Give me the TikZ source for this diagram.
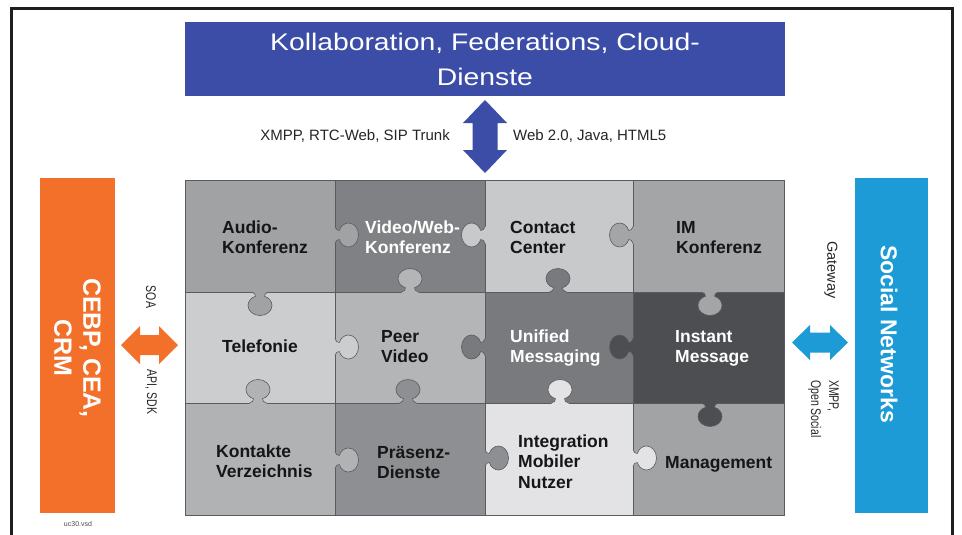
\documentclass[tikz,border=0pt]{standalone}
\usepackage{fontspec}
\setmainfont{Liberation Sans}
\newfontfamily\widefont[FakeStretch=1.18]{Liberation Sans}
\newfontfamily\condfont[FakeStretch=0.75]{Liberation Sans}
\definecolor{cTitle}{HTML}{3B4DA7}
\definecolor{cOrange}{HTML}{F2702A}
\definecolor{cCyan}{HTML}{1C9BD7}
\definecolor{cAudio}{HTML}{A1A2A4}
\definecolor{cVideo}{HTML}{808184}
\definecolor{cContact}{HTML}{C8C9CB}
\definecolor{cIMK}{HTML}{A4A5A7}
\definecolor{cTel}{HTML}{CCCDCF}
\definecolor{cPeer}{HTML}{B4B5B7}
\definecolor{cUM}{HTML}{797A7D}
\definecolor{cIM}{HTML}{4D4E51}
\definecolor{cKont}{HTML}{B1B2B4}
\definecolor{cPraes}{HTML}{8E8F92}
\definecolor{cInteg}{HTML}{E3E3E5}
\definecolor{cMgmt}{HTML}{A2A3A5}
\definecolor{cellline}{HTML}{5A5B5E}
\definecolor{cText}{HTML}{161616}
\tikzset{
  cellbox/.style={draw=cellline, line width=0.6pt, inner sep=0pt, outer sep=0pt},
  celltext/.style={anchor=base west, align=left, inner sep=0pt,
    font=\bfseries\fontsize{17.5}{20.5}\selectfont, text=cText},
  whitetext/.style={celltext, text=white},
  toplabel/.style={inner sep=0pt, font=\fontsize{15}{18}\selectfont, text=black!85},
  sidelabel/.style={rotate=-90, inner sep=0pt, font=\condfont\fontsize{14}{18}\selectfont, text=black!85},
  knobline/.style={draw=cellline, line width=0.6pt},
}
\newcommand{\knobpath}{(0,-8.5)
    .. controls (0.6,-5.5) and (2.4,-4.5) .. (4.23,-4.5)
    .. controls (5.76,-9.04) and (9.42,-12) .. (13.5,-12)
    .. controls (19.02,-12) and (23.5,-6.63) .. (23.5,0)
    .. controls (23.5,6.63) and (19.02,12) .. (13.5,12)
    .. controls (9.42,12) and (5.76,9.04) .. (4.23,4.5)
    .. controls (2.4,4.5) and (0.6,5.5) .. (0,8.5)}
\newcommand{\knob}[4]{%
  \fill[#4, shift={(#1,#2)}, rotate=#3] (-1,-8.5) -- \knobpath -- (-1,8.5) -- cycle;
  \draw[knobline, shift={(#1,#2)}, rotate=#3] \knobpath;}
\begin{document}
\begin{tikzpicture}[x=1pt, y=-1pt]
\useasboundingbox (0,0) rectangle (962,535);
\clip (0,0) rectangle (962,535);
\fill[white] (0,0) rectangle (962,535);
% frame
\draw[line width=2.5pt, black!88] (11.3,560) -- (11.3,8.3) -- (952.5,8.3) -- (952.5,560);

% title box
\node[fill=cTitle, minimum width=600pt, minimum height=74pt, inner sep=0pt,
      align=center, text=white, font=\widefont\fontsize{24}{35}\selectfont]
  (title) at (485,59) {Kollaboration, Federations, Cloud-\\Dienste};

% side bars
\node[fill=cOrange, minimum width=75pt, minimum height=335pt, inner sep=0pt] (cebp) at (77.5,345.5) {};
\node[rotate=-90, align=center, text=white, inner sep=0pt,
      font=\bfseries\fontsize{25}{29}\selectfont] (cebpT) at (77.5,348) {CEBP, CEA,\\CRM};
\node[fill=cCyan, minimum width=73pt, minimum height=335pt, inner sep=0pt] (social) at (891.5,345.5) {};
\node[rotate=-90, text=white, inner sep=0pt,
      font=\bfseries\fontsize{23}{28}\selectfont] (socialT) at (889,334) {Social Networks};

% arrows
\fill[cTitle] (485,100) -- (507,123) -- (497.5,123) -- (497.5,150) -- (507,150) -- (485,173)
  -- (463,150) -- (472.5,150) -- (472.5,123) -- (463,123) -- cycle;
\fill[cOrange] (121,345) -- (140,326) -- (140,335) -- (159,335) -- (159,326) -- (178,345)
  -- (159,364) -- (159,355) -- (140,355) -- (140,364) -- cycle;
\fill[cCyan] (792,342.5) -- (810,325) -- (810,332.5) -- (830,332.5) -- (830,325) -- (848,342.5)
  -- (830,360) -- (830,352.5) -- (810,352.5) -- (810,360) -- cycle;

% labels
\node[toplabel, anchor=base east] (lblL) at (450,140) {XMPP, RTC-Web, SIP Trunk};
\node[toplabel, anchor=base west] (lblR) at (513,140) {Web 2.0, Java, HTML5};
\node[sidelabel] (soa) at (151,297) {SOA};
\node[sidelabel] (api) at (151,392) {API, SDK};
\node[sidelabel, font=\fontsize{14.5}{18}\selectfont] (gw) at (831,270) {Gateway};
\node[sidelabel, align=left, anchor=north west] (xmpp) at (839,380) {XMPP,\\Open Social};
\node[inner sep=0pt, font=\fontsize{7}{8}\selectfont, text=black!70] (vsd) at (78,524) {uc30.vsd};

% cells
\node[cellbox, fill=cAudio,   minimum width=150pt, minimum height=112pt] (audio)   at (260,236) {};
\node[cellbox, fill=cVideo,   minimum width=150pt, minimum height=112pt] (video)   at (410,236) {};
\node[cellbox, fill=cContact, minimum width=148pt, minimum height=112pt] (contact) at (559,236) {};
\node[cellbox, fill=cIMK,     minimum width=151pt, minimum height=112pt] (imk)     at (708.5,236) {};
\node[cellbox, fill=cTel,     minimum width=150pt, minimum height=111pt] (tel)     at (260,347.5) {};
\node[cellbox, fill=cPeer,    minimum width=150pt, minimum height=111pt] (peer)    at (410,347.5) {};
\node[cellbox, fill=cUM,      minimum width=148pt, minimum height=111pt] (um)      at (559,347.5) {};
\node[cellbox, fill=cIM,      minimum width=151pt, minimum height=111pt] (im)      at (708.5,347.5) {};
\node[cellbox, fill=cKont,    minimum width=150pt, minimum height=112pt] (kont)    at (260,459) {};
\node[cellbox, fill=cPraes,   minimum width=150pt, minimum height=112pt] (praes)   at (410,459) {};
\node[cellbox, fill=cInteg,   minimum width=148pt, minimum height=112pt] (integ)   at (559,459) {};
\node[cellbox, fill=cMgmt,    minimum width=151pt, minimum height=112pt] (mgmt)    at (708.5,459) {};

% knobs (edge point, direction, colour of source piece)
\knob{335}{235}{0}{cAudio}
\knob{485}{235}{180}{cContact}
\knob{633}{235}{180}{cIMK}
\knob{335}{347}{0}{cTel}
\knob{485}{347}{180}{cUM}
\knob{633}{347}{180}{cIM}
\knob{335}{460}{0}{cKont}
\knob{485}{458}{0}{cPraes}
\knob{633}{458}{0}{cInteg}
\knob{260}{292}{-90}{cAudio}
\knob{410}{292}{90}{cPeer}
\knob{558}{292}{90}{cUM}
\knob{710}{292}{-90}{cIMK}
\knob{258}{403}{90}{cKont}
\knob{408}{403}{90}{cPraes}
\knob{560}{403}{90}{cInteg}
\knob{710}{403}{-90}{cIM}

% cell texts (anchor = baseline of last line)
\node[celltext]  (audioT)   at (222,253.5) {Audio-\\Konferenz};
\node[whitetext] (videoT)   at (365,253.5) {Video/Web-\\Konferenz};
\node[celltext]  (contactT) at (510,253.5) {Contact\\Center};
\node[celltext]  (imkT)     at (676,253.5) {IM\\Konferenz};
\node[celltext]  (telT)     at (222,352) {Telefonie};
\node[celltext]  (peerT)    at (381,362.5) {Peer\\Video};
\node[whitetext] (umT)      at (510,362.5) {Unified\\Messaging};
\node[whitetext] (imT)      at (675,362.5) {Instant\\Message};
\node[celltext]  (kontT)    at (216,477.5) {Kontakte\\Verzeichnis};
\node[celltext]  (praesT)   at (377,478.5) {Präsenz-\\Dienste};
\node[celltext]  (integT)   at (518,488) {Integration\\Mobiler\\Nutzer};
\node[celltext]  (mgmtT)    at (665,468) {Management};
\end{tikzpicture}
\end{document}
